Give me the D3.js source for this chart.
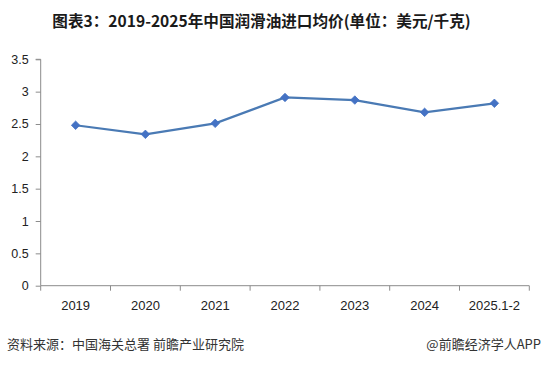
<!DOCTYPE html>
<html><head><meta charset="utf-8">
<script src="https://cdn.jsdelivr.net/npm/d3@7/dist/d3.min.js"></script>
<style>body{margin:0;background:#fff}svg{display:block}</style>
</head><body>
<script>
const categories = ["2019","2020","2021","2022","2023","2024","2025.1-2"];
const values = [2.48, 2.34, 2.51, 2.91, 2.87, 2.68, 2.82];
const yTicks = [0, 0.5, 1, 1.5, 2, 2.5, 3, 3.5];
const title = "图表3：2019-2025年中国润滑油进口均价(单位：美元/千克)";
const source = "资料来源：中国海关总署 前瞻产业研究院";
const credit = "@前瞻经济学人APP";

const W = 542, H = 365;
const m = {left: 40.7, right: 12.7, top: 59.3, bottom: 79.3};
const svg = d3.select("body").append("svg").attr("width", W).attr("height", H);
const cjk = "'Noto Sans CJK SC', 'Noto Sans', sans-serif";
const latin = "'Liberation Sans', Arial, sans-serif";

const x = d3.scaleBand().domain(categories).range([m.left, W - m.right]);
const y = d3.scaleLinear().domain([0, 3.5]).range([H - m.bottom, m.top]);

svg.append("text").attr("x", 261.5).attr("y", 27).attr("text-anchor", "middle")
  .attr("font-family", cjk).attr("font-weight", "bold").attr("font-size", 15.6)
  .attr("fill", "#1a1a1a").text(title);

// Y axis
const ya = svg.append("g").attr("transform", `translate(${m.left},0)`)
  .call(d3.axisLeft(y).tickValues(yTicks).tickFormat(d => d).tickSize(5).tickPadding(7));
ya.selectAll("path,line").attr("stroke", "#8c8c8c");
ya.select(".domain").attr("d", `M-5,${y(3.5)}H0V${y(0)}`);
ya.selectAll("text").attr("font-family", latin).attr("font-size", 12.5).attr("fill", "#222");

// X axis
const xa = svg.append("g").attr("transform", `translate(0,${y(0)})`)
  .call(d3.axisBottom(x).tickSize(0).tickPadding(15));
xa.select(".domain").attr("stroke", "#8c8c8c").attr("d", `M${m.left},0H${W - m.right}`);
xa.selectAll("text").attr("font-family", latin).attr("font-size", 13).attr("fill", "#222");
const bounds = categories.map(c => x(c)).concat([W - m.right]);
xa.selectAll(".bt").data(bounds).enter().append("line").attr("class", "bt")
  .attr("x1", d => d).attr("x2", d => d).attr("y1", 0).attr("y2", 5).attr("stroke", "#8c8c8c");

// Line
const cx = c => x(c) + x.bandwidth() / 2;
const data = categories.map((c, i) => ({c, v: values[i]}));
svg.append("path").datum(data)
  .attr("d", d3.line().x(d => cx(d.c)).y(d => y(d.v)))
  .attr("fill", "none").attr("stroke", "#4a7ab4").attr("stroke-width", 2.2);
svg.selectAll(".mk").data(data).enter().append("path").attr("class", "mk")
  .attr("transform", d => `translate(${cx(d.c)},${y(d.v)})`)
  .attr("d", d3.symbol(d3.symbolDiamond2, 46))
  .attr("fill", "#4472c4").attr("stroke", "#4472c4").attr("stroke-width", 0.8);

// Footer
svg.append("text").attr("x", 7).attr("y", 349).attr("font-family", cjk)
  .attr("font-size", 13).attr("fill", "#333").text(source);
svg.append("text").attr("x", 541).attr("y", 349).attr("text-anchor", "end")
  .attr("font-family", cjk).attr("font-size", 13).attr("fill", "#333").text(credit);
</script>
</body></html>
